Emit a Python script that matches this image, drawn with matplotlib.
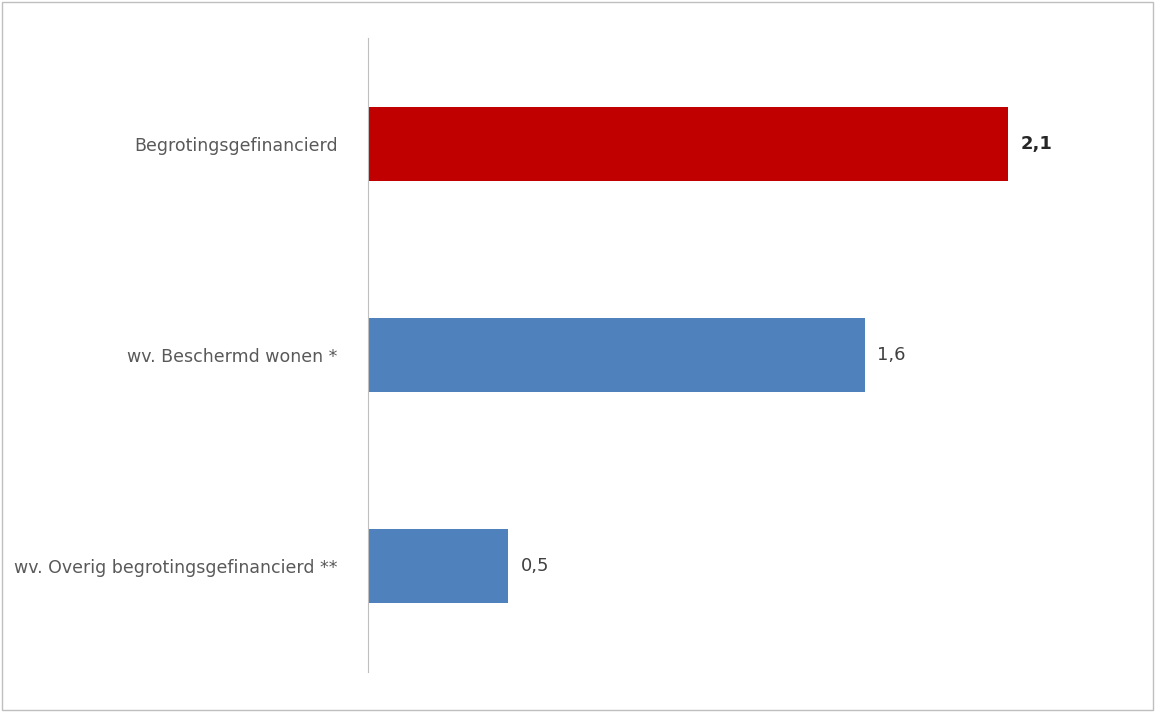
import matplotlib
matplotlib.use("Agg")
import matplotlib.pyplot as plt
from matplotlib.patches import Rectangle

categories = ["Begrotingsgefinancierd", "wv. Beschermd wonen *", "wv. Overig begrotingsgefinancierd **"]
values = [2.1, 1.63, 0.46]
colors = ["#C00000", "#4F81BD", "#4F81BD"]
labels = ["2,1", "1,6", "0,5"]
bold = [True, False, False]

plt.rcParams["font.family"] = ["DejaVu Sans"]
fig = plt.figure(figsize=(11.55, 7.12), dpi=100)
ax = fig.add_axes([368/1155, 40/712, 762/1155, 634/712])
y = list(range(len(categories)))
ax.barh(y, values, height=0.35, color=colors)
ax.set_ylim(2.5, -0.5)
ax.set_xlim(0, 2.5)
ax.set_yticks(y)
ax.set_yticklabels(categories, fontsize=12.5, color="#595959")
ax.tick_params(axis="y", length=0, pad=22)
ax.set_xticks([])
for s in ["top", "right", "bottom"]:
    ax.spines[s].set_visible(False)
ax.spines["left"].set_color("#BFBFBF")
for yi, v, l, b in zip(y, values, labels, bold):
    ax.text(v + 0.04, yi, l, va="center", ha="left", fontsize=13,
            color="#262626" if b else "#404040", fontweight="bold" if b else "normal")
fig.patches.append(Rectangle((0.002, 0.003), 0.996, 0.994, transform=fig.transFigure,
                             fill=False, edgecolor="#BFBFBF", linewidth=1))
fig.savefig("out.png", dpi=100)
